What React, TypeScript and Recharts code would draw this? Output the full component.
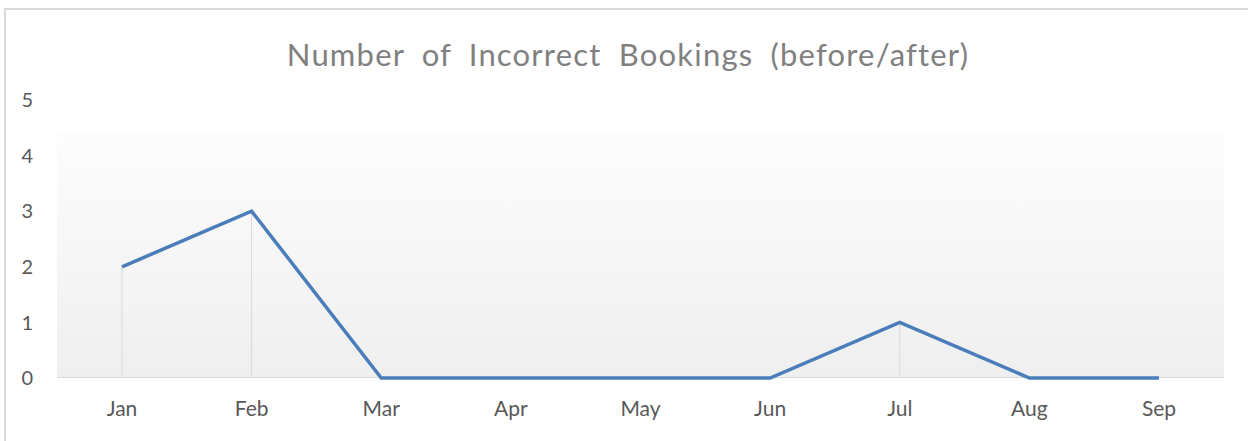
import React from 'react';
import { LineChart, Line, XAxis, YAxis, ReferenceLine, Customized } from 'recharts';

const months = ['Jan', 'Feb', 'Mar', 'Apr', 'May', 'Jun', 'Jul', 'Aug', 'Sep'];
const bookings = [2, 3, 0, 0, 0, 0, 1, 0, 0];
const yTicks = [0, 1, 2, 3, 4, 5];
const title = 'Number of Incorrect Bookings (before/after)';

const data = months.map((m, i) => ({ month: m, value: bookings[i] }));

const FONT = 'Lato, "Open Sans", sans-serif';

const Title = () => (
  <text
    x={628}
    y={66}
    textAnchor="middle"
    fontFamily={FONT}
    fontSize={31}
    fill="#808080"
    style={{ wordSpacing: '8px', letterSpacing: '1.2px' }}
  >
    {title}
  </text>
);

export default function App() {
  return (
    <div style={{ position: 'absolute', left: 0, top: 0, width: 1248, height: 441, background: '#fff' }}>
      <div
        style={{
          position: 'absolute',
          left: 4,
          top: 8,
          width: 1260,
          height: 450,
          borderTop: '2px solid #d9d9d9',
          borderLeft: '2px solid #d9d9d9',
          boxSizing: 'border-box',
        }}
      />
      <div
        style={{
          position: 'absolute',
          left: 57,
          top: 132,
          width: 1167,
          height: 246,
          background: 'linear-gradient(to bottom, #fdfdfd, #efefef)',
        }}
      />
      <div
        style={{
          position: 'absolute',
          left: 57,
          top: 377,
          width: 1167,
          height: 1,
          background: '#d9d9d9',
        }}
      />
      <div style={{ position: 'absolute', left: 0, top: 0 }}>
        <LineChart
          width={1248}
          height={441}
          data={data}
          margin={{ top: 100, right: 24, bottom: 23, left: 0 }}
        >
          <XAxis
            dataKey="month"
            padding={{ left: 65, right: 65 }}
            height={40}
            tickLine={false}
            tickSize={0}
            tickMargin={23}
            axisLine={false}
            tick={{ fill: '#595959', fontSize: 21, fontFamily: FONT }}
            interval={0}
          />
          <YAxis
            domain={[0, 5]}
            ticks={yTicks}
            width={57}
            axisLine={false}
            tickLine={false}
            tickSize={0}
            tickMargin={24}
            tick={{ fill: '#595959', fontSize: 20, fontFamily: FONT }}
          />
          {data
            .filter((d) => d.value > 0)
            .map((d) => (
              <ReferenceLine
                key={d.month}
                segment={[
                  { x: d.month, y: 0 },
                  { x: d.month, y: d.value },
                ]}
                stroke="#d9d9d9"
                strokeWidth={1}
              />
            ))}
          <Line
            type="linear"
            dataKey="value"
            stroke="#4a7ebb"
            strokeWidth={3.5}
            dot={false}
            activeDot={false}
            isAnimationActive={false}
          />
          <Customized component={Title} />
        </LineChart>
      </div>
    </div>
  );
}
